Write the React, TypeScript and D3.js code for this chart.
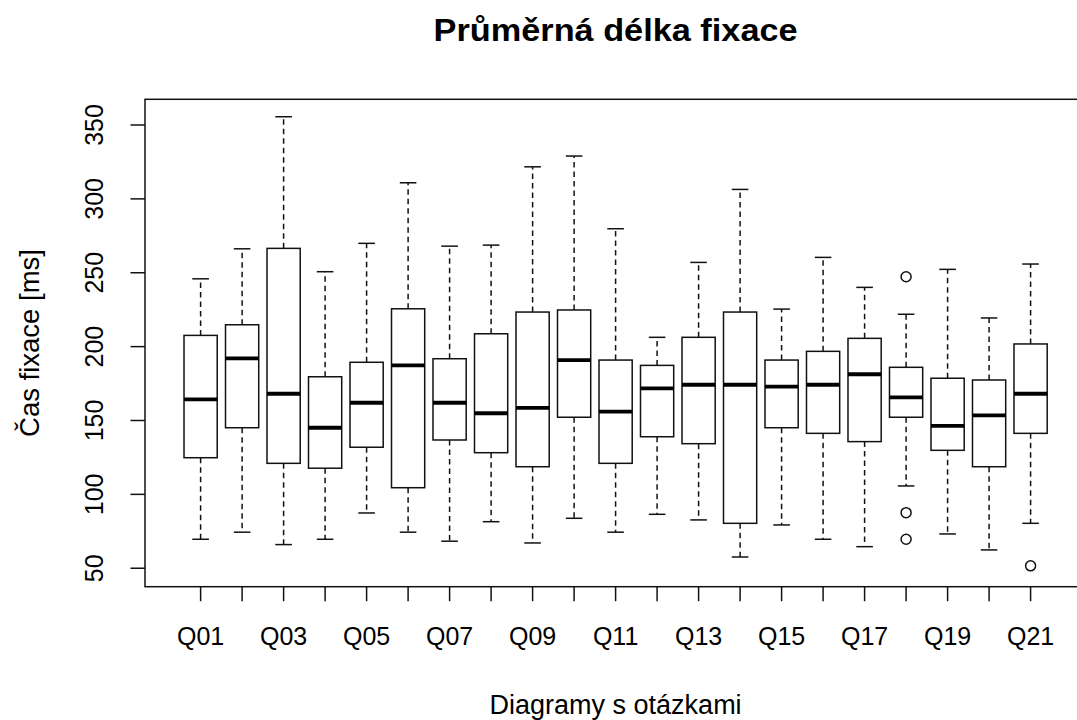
import React from "react";
import * as d3 from "d3";

const categories = ["Q01","Q02","Q03","Q04","Q05","Q06","Q07","Q08","Q09","Q10","Q11","Q12","Q13","Q14","Q15","Q16","Q17","Q18","Q19","Q20","Q21"];
const lowerWhisker = [69.6, 74.4, 66, 69.6, 87.4, 74.4, 68.3, 81.5, 67.1, 83.8, 74.4, 86.5, 82.7, 57.6, 79.3, 69.6, 64.6, 105.7, 73.2, 62.4, 80.4];
const q1 = [124.8, 145.1, 121, 117.7, 131.9, 104.5, 136.8, 128.2, 118.7, 152.2, 121, 139, 134.3, 80.4, 145.1, 141.3, 135.7, 152.2, 129.8, 118.7, 141.3];
const median = [164.3, 192.1, 168.1, 145.1, 162, 187.3, 162, 154.9, 158.5, 190.9, 156, 171.8, 174.2, 174.2, 172.9, 174.2, 181.3, 165.7, 146.3, 153.5, 168.1];
const q3 = [207.6, 214.8, 266.5, 179.6, 189.4, 225.6, 191.8, 208.7, 223.4, 224.8, 190.9, 187.3, 206.3, 223.4, 190.9, 196.8, 205.6, 186, 178.6, 177.4, 201.8];
const upperWhisker = [245.9, 266.2, 355.6, 250.7, 269.9, 310.9, 268, 268.7, 321.7, 329, 279.8, 206.3, 257, 306.4, 225.4, 260.4, 240.1, 221.9, 252.3, 219.4, 255.9];
const outlierCategory = ["Q18", "Q18", "Q18", "Q21"];
const outlierValue = [247.3, 87.6, 69.6, 51.6];
const yTicks = [50, 100, 150, 200, 250, 300, 350];

const W = 1077;
const H = 720;
const FONT = "'Liberation Sans', Arial, sans-serif";

export default function App() {
  const n = categories.length;
  const ext = 0.04 * n;
  const x = d3.scaleLinear().domain([0.5 - ext, n + 0.5 + ext]).range([145, 1086.2]);
  const y = d3.scaleLinear().domain([37.5, 367.4]).range([586.7, 99.3]);
  const unit = x(2) - x(1);
  const boxW = unit * 0.8;
  const stapleW = boxW * 0.5;
  const [px0, px1] = x.range();
  const [py0, py1] = y.range();
  const stroke = "#111";
  const sw = 1.5;
  const dash = "5.5,4";
  const tickLen = 14.5;

  return (
    <svg width={W} height={H} style={{ position: "absolute", left: 0, top: 0, background: "#fff" }}>
      <rect x={0} y={0} width={W} height={H} fill="#fff" />
      <text x={(px0 + px1) / 2} y={41} textAnchor="middle" fontFamily={FONT} fontWeight="bold" fontSize={31} textLength={364} lengthAdjust="spacingAndGlyphs" fill="#000">
        Průměrná délka fixace
      </text>
      {categories.map((c, i) => {
        const cx = x(i + 1);
        return (
          <g key={c}>
            <line x1={cx} x2={cx} y1={y(q3[i])} y2={y(upperWhisker[i])} stroke={stroke} strokeWidth={sw} strokeDasharray={dash} />
            <line x1={cx} x2={cx} y1={y(q1[i])} y2={y(lowerWhisker[i])} stroke={stroke} strokeWidth={sw} strokeDasharray={dash} />
            <line x1={cx - stapleW / 2} x2={cx + stapleW / 2} y1={y(upperWhisker[i])} y2={y(upperWhisker[i])} stroke={stroke} strokeWidth={sw} />
            <line x1={cx - stapleW / 2} x2={cx + stapleW / 2} y1={y(lowerWhisker[i])} y2={y(lowerWhisker[i])} stroke={stroke} strokeWidth={sw} />
            <rect x={cx - boxW / 2} y={y(q3[i])} width={boxW} height={y(q1[i]) - y(q3[i])} fill="none" stroke={stroke} strokeWidth={sw} />
            <line x1={cx - boxW / 2} x2={cx + boxW / 2} y1={y(median[i])} y2={y(median[i])} stroke="#000" strokeWidth={3.8} />
          </g>
        );
      })}
      {outlierValue.map((v, k) => {
        const i = categories.indexOf(outlierCategory[k]);
        return <circle key={k} cx={x(i + 1)} cy={y(v)} r={5} fill="none" stroke={stroke} strokeWidth={sw} />;
      })}
      <rect x={px0} y={py1} width={px1 - px0} height={py0 - py1} fill="none" stroke={stroke} strokeWidth={sw} />
      {categories.map((c, i) => (
        <g key={"t" + c}>
          <line x1={x(i + 1)} x2={x(i + 1)} y1={py0} y2={py0 + tickLen} stroke={stroke} strokeWidth={sw} />
          {i % 2 === 0 && (
            <text x={x(i + 1)} y={645} textAnchor="middle" fontFamily={FONT} fontSize={25} fill="#000">
              {c}
            </text>
          )}
        </g>
      ))}
      {yTicks.map((t) => (
        <g key={"y" + t}>
          <line x1={px0 - tickLen} x2={px0} y1={y(t)} y2={y(t)} stroke={stroke} strokeWidth={sw} />
          <text transform={`translate(103,${y(t)}) rotate(-90)`} textAnchor="middle" fontFamily={FONT} fontSize={25} fill="#000">
            {t}
          </text>
        </g>
      ))}
      <text x={(px0 + px1) / 2} y={714} textAnchor="middle" fontFamily={FONT} fontSize={27} fill="#000">
        Diagramy s otázkami
      </text>
      <text transform={`translate(39,${(py0 + py1) / 2}) rotate(-90)`} textAnchor="middle" fontFamily={FONT} fontSize={27.5} fill="#000">
        Čas fixace [ms]
      </text>
    </svg>
  );
}
